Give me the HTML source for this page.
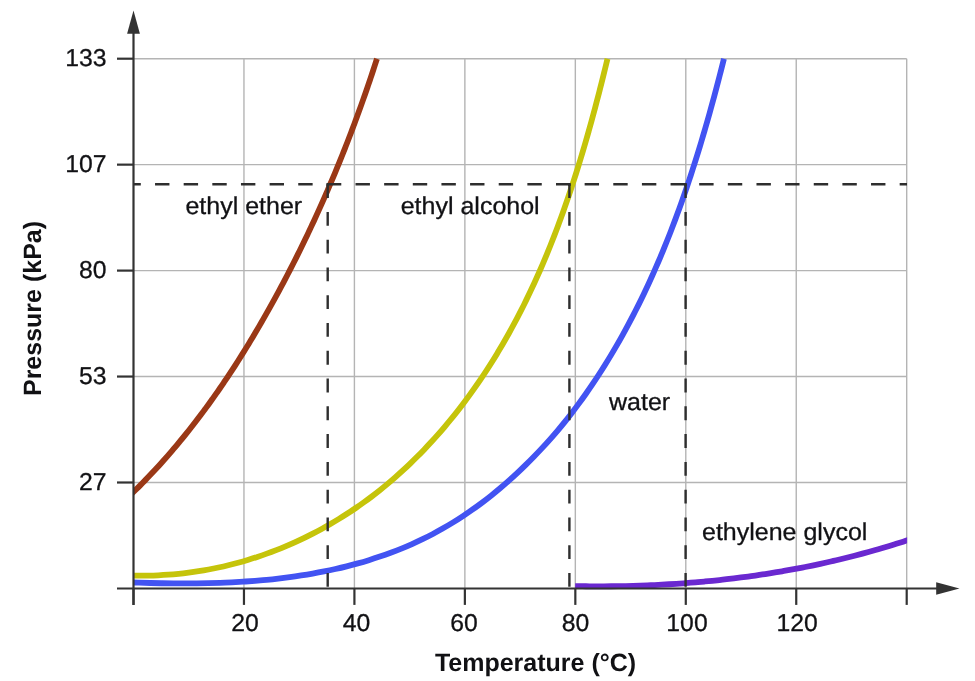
<!DOCTYPE html>
<html lang="en">
<head>
<meta charset="utf-8">
<title>Vapor pressure versus temperature</title>
<style>
html,body{margin:0;padding:0;background:#fff;}
body{width:975px;height:681px;overflow:hidden;}
svg{display:block;}
text{font-family:"Liberation Sans",sans-serif;font-size:25px;fill:#111114;stroke:#111114;stroke-width:0.3px;stroke-linejoin:round;text-rendering:geometricPrecision;}
.b{font-weight:bold;stroke-width:0;}
.grid line{stroke:#b4b4b4;stroke-width:1.4;}
.ax line{stroke:#333;stroke-width:2.2;}
.cv path{fill:none;stroke-width:5.8;}
.ds path{fill:none;stroke:#2e2e2e;stroke-width:2.4;}
</style>
</head>
<body>
<svg width="975" height="681" viewBox="0 0 975 681">
<rect width="975" height="681" fill="#ffffff"/>
<g>
<g class="grid"><line x1="243.96" y1="58.70" x2="243.96" y2="588.50"/><line x1="354.41" y1="58.70" x2="354.41" y2="588.50"/><line x1="464.87" y1="58.70" x2="464.87" y2="588.50"/><line x1="575.33" y1="58.70" x2="575.33" y2="588.50"/><line x1="685.79" y1="58.70" x2="685.79" y2="588.50"/><line x1="796.24" y1="58.70" x2="796.24" y2="588.50"/><line x1="906.70" y1="58.70" x2="906.70" y2="588.50"/><line x1="133.50" y1="58.70" x2="906.70" y2="58.70"/><line x1="133.50" y1="164.65" x2="906.70" y2="164.65"/><line x1="133.50" y1="270.60" x2="906.70" y2="270.60"/><line x1="133.50" y1="376.55" x2="906.70" y2="376.55"/><line x1="133.50" y1="482.50" x2="906.70" y2="482.50"/></g>
<defs><clipPath id="plot"><rect x="133.5" y="54.7" width="773.80" height="536.80"/></clipPath><clipPath id="pp"><rect x="575.03" y="500" width="332.27" height="100"/></clipPath></defs>
<g class="cv" clip-path="url(#plot)">
<path d="M126.47 498.77 C127.27 498.01 129.68 495.72 131.27 494.19 C132.86 492.65 134.44 491.11 136.01 489.55 C137.58 488.00 139.14 486.44 140.69 484.87 C142.24 483.30 143.79 481.72 145.32 480.14 C146.86 478.56 148.38 476.96 149.90 475.36 C151.41 473.76 152.92 472.16 154.42 470.54 C155.92 468.93 157.41 467.31 158.89 465.68 C160.37 464.05 161.85 462.41 163.31 460.77 C164.77 459.13 166.23 457.48 167.68 455.82 C169.12 454.16 170.56 452.50 171.99 450.83 C173.42 449.16 174.85 447.48 176.26 445.80 C177.68 444.11 179.08 442.42 180.48 440.72 C181.88 439.03 183.27 437.32 184.65 435.61 C186.03 433.90 187.40 432.19 188.77 430.46 C190.14 428.74 191.49 427.01 192.85 425.28 C194.20 423.54 195.54 421.80 196.87 420.05 C198.21 418.31 199.54 416.56 200.86 414.80 C202.18 413.04 203.49 411.28 204.79 409.51 C206.10 407.74 207.40 405.96 208.69 404.18 C209.98 402.40 211.26 400.61 212.54 398.82 C213.81 397.03 215.08 395.24 216.35 393.43 C217.61 391.63 218.86 389.83 220.11 388.01 C221.36 386.20 222.60 384.39 223.84 382.56 C225.07 380.74 226.30 378.92 227.52 377.09 C228.74 375.26 229.95 373.42 231.16 371.58 C232.37 369.74 233.57 367.89 234.76 366.05 C235.96 364.20 237.15 362.34 238.33 360.49 C239.51 358.63 240.69 356.77 241.86 354.90 C243.03 353.03 244.19 351.16 245.35 349.29 C246.50 347.42 247.65 345.54 248.80 343.66 C249.94 341.77 251.08 339.89 252.22 338.00 C253.35 336.11 254.48 334.22 255.60 332.32 C256.72 330.43 257.84 328.53 258.95 326.62 C260.06 324.72 261.16 322.81 262.26 320.90 C263.36 318.99 264.45 317.08 265.54 315.17 C266.63 313.25 267.71 311.33 268.79 309.41 C269.87 307.49 270.94 305.56 272.00 303.64 C273.07 301.71 274.13 299.78 275.19 297.85 C276.25 295.91 277.30 293.98 278.34 292.04 C279.39 290.10 280.43 288.16 281.47 286.22 C282.50 284.27 283.53 282.33 284.56 280.38 C285.58 278.43 286.60 276.48 287.62 274.52 C288.64 272.57 289.65 270.61 290.65 268.65 C291.66 266.69 292.66 264.73 293.65 262.77 C294.65 260.80 295.64 258.84 296.62 256.87 C297.60 254.90 298.58 252.92 299.56 250.95 C300.53 248.98 301.50 247.00 302.47 245.02 C303.43 243.04 304.39 241.06 305.35 239.08 C306.30 237.09 307.25 235.11 308.19 233.12 C309.14 231.13 310.08 229.14 311.01 227.14 C311.95 225.15 312.88 223.16 313.80 221.16 C314.72 219.16 315.64 217.16 316.56 215.16 C317.47 213.16 318.38 211.15 319.29 209.15 C320.19 207.14 321.09 205.13 321.99 203.12 C322.88 201.11 323.77 199.10 324.65 197.08 C325.54 195.07 326.42 193.05 327.29 191.03 C328.17 189.01 329.04 186.99 329.90 184.97 C330.77 182.94 331.63 180.92 332.49 178.89 C333.34 176.86 334.19 174.83 335.04 172.80 C335.88 170.77 336.72 168.74 337.56 166.70 C338.40 164.67 339.23 162.63 340.05 160.59 C340.88 158.55 341.70 156.51 342.52 154.47 C343.34 152.43 344.15 150.38 344.96 148.34 C345.76 146.29 346.57 144.24 347.36 142.19 C348.16 140.14 348.95 138.09 349.74 136.04 C350.53 133.98 351.31 131.93 352.09 129.87 C352.87 127.81 353.65 125.76 354.42 123.70 C355.18 121.64 355.95 119.57 356.71 117.51 C357.47 115.45 358.22 113.38 358.97 111.32 C359.73 109.25 360.47 107.18 361.21 105.11 C361.95 103.04 362.69 100.97 363.42 98.90 C364.15 96.83 364.88 94.75 365.60 92.68 C366.33 90.60 367.04 88.53 367.76 86.45 C368.47 84.37 369.18 82.29 369.88 80.21 C370.59 78.13 371.29 76.04 371.98 73.96 C372.68 71.88 373.37 69.79 374.05 67.70 C374.74 65.62 375.61 62.93 376.10 61.44 C376.58 59.95 376.82 59.20 376.96 58.75" stroke="#9a3816"/>
<path d="M117.29 574.75 C119.00 574.85 124.14 575.20 127.56 575.34 C130.98 575.49 134.40 575.58 137.81 575.63 C141.22 575.67 144.63 575.67 148.04 575.61 C151.44 575.56 154.84 575.46 158.23 575.30 C161.62 575.15 165.01 574.95 168.39 574.70 C171.77 574.46 175.14 574.16 178.51 573.82 C181.87 573.48 185.23 573.08 188.57 572.65 C191.92 572.21 195.26 571.73 198.59 571.20 C201.92 570.67 205.24 570.10 208.55 569.48 C211.86 568.86 215.16 568.20 218.44 567.49 C221.73 566.78 225.01 566.03 228.27 565.23 C231.54 564.43 234.79 563.59 238.03 562.71 C241.26 561.83 244.49 560.90 247.70 559.93 C250.91 558.97 254.11 557.95 257.29 556.90 C260.48 555.85 263.64 554.76 266.80 553.62 C269.95 552.49 273.08 551.31 276.20 550.10 C279.32 548.88 282.43 547.62 285.51 546.33 C288.60 545.03 291.66 543.70 294.71 542.33 C297.76 540.95 300.80 539.54 303.81 538.09 C306.82 536.64 309.81 535.15 312.78 533.62 C315.76 532.10 318.71 530.53 321.64 528.93 C324.57 527.34 327.48 525.70 330.37 524.02 C333.26 522.35 336.13 520.64 338.97 518.90 C341.82 517.15 344.64 515.37 347.44 513.56 C350.23 511.75 353.01 509.90 355.76 508.01 C358.51 506.13 361.23 504.21 363.93 502.26 C366.63 500.31 369.31 498.33 371.96 496.32 C374.61 494.30 377.24 492.25 379.85 490.18 C382.45 488.10 385.03 485.99 387.58 483.85 C390.14 481.71 392.67 479.54 395.18 477.35 C397.68 475.15 400.17 472.92 402.62 470.67 C405.08 468.41 407.52 466.13 409.93 463.82 C412.34 461.51 414.72 459.17 417.08 456.81 C419.45 454.45 421.78 452.06 424.10 449.65 C426.41 447.23 428.70 444.79 430.97 442.33 C433.23 439.87 435.47 437.38 437.69 434.87 C439.91 432.36 442.10 429.83 444.27 427.27 C446.44 424.72 448.59 422.14 450.71 419.54 C452.83 416.95 454.93 414.33 457.01 411.69 C459.08 409.05 461.13 406.39 463.16 403.71 C465.18 401.03 467.19 398.33 469.16 395.62 C471.14 392.90 473.10 390.17 475.03 387.42 C476.96 384.66 478.87 381.90 480.75 379.11 C482.64 376.33 484.50 373.53 486.33 370.71 C488.17 367.90 489.98 365.06 491.77 362.22 C493.56 359.38 495.33 356.52 497.07 353.64 C498.81 350.77 500.53 347.89 502.23 344.99 C503.92 342.09 505.59 339.18 507.24 336.26 C508.89 333.34 510.52 330.40 512.12 327.46 C513.72 324.51 515.30 321.55 516.86 318.59 C518.42 315.62 519.96 312.64 521.48 309.65 C523.00 306.66 524.49 303.66 525.97 300.65 C527.44 297.64 528.89 294.62 530.33 291.59 C531.76 288.56 533.18 285.52 534.57 282.48 C535.97 279.43 537.34 276.37 538.70 273.31 C540.05 270.24 541.39 267.17 542.71 264.08 C544.03 261.00 545.33 257.91 546.61 254.81 C547.89 251.71 549.15 248.61 550.40 245.49 C551.65 242.38 552.88 239.26 554.09 236.13 C555.30 233.01 556.50 229.87 557.68 226.73 C558.86 223.59 560.02 220.44 561.17 217.29 C562.31 214.14 563.45 210.98 564.56 207.82 C565.68 204.65 566.78 201.48 567.87 198.31 C568.95 195.14 570.02 191.96 571.08 188.77 C572.14 185.59 573.18 182.40 574.21 179.21 C575.24 176.02 576.26 172.82 577.26 169.62 C578.27 166.43 579.26 163.22 580.24 160.02 C581.21 156.81 582.18 153.60 583.13 150.39 C584.09 147.18 585.03 143.97 585.96 140.75 C586.89 137.54 587.81 134.32 588.72 131.10 C589.62 127.88 590.52 124.66 591.41 121.43 C592.30 118.21 593.17 114.99 594.04 111.76 C594.91 108.54 595.76 105.31 596.61 102.09 C597.46 98.86 598.30 95.64 599.13 92.41 C599.96 89.19 600.78 85.96 601.59 82.74 C602.41 79.52 603.21 76.29 604.01 73.07 C604.81 69.85 605.80 65.79 606.38 63.41 C606.96 61.02 607.32 59.53 607.50 58.75" stroke="#c5c40a"/>
<path d="M116.26 581.82 C118.15 581.90 123.81 582.14 127.60 582.28 C131.39 582.43 135.20 582.56 139.01 582.69 C142.82 582.81 146.64 582.92 150.47 583.02 C154.30 583.11 158.14 583.20 161.98 583.26 C165.83 583.33 169.68 583.38 173.54 583.41 C177.40 583.45 181.26 583.46 185.13 583.46 C189.00 583.45 192.87 583.43 196.75 583.38 C200.63 583.33 204.51 583.27 208.39 583.17 C212.27 583.08 216.15 582.97 220.03 582.83 C223.92 582.68 227.80 582.52 231.69 582.32 C235.57 582.13 239.45 581.91 243.33 581.66 C247.21 581.41 251.09 581.13 254.96 580.82 C258.84 580.50 262.71 580.16 266.58 579.78 C270.44 579.41 274.30 579.00 278.16 578.55 C282.01 578.11 285.86 577.63 289.71 577.11 C293.55 576.60 297.38 576.04 301.21 575.45 C305.03 574.86 308.85 574.23 312.66 573.55 C316.46 572.88 320.26 572.17 324.05 571.41 C327.83 570.65 331.61 569.85 335.37 569.01 C339.13 568.17 342.88 567.28 346.61 566.34 C350.34 565.41 354.07 564.42 357.77 563.39 C361.48 562.36 365.17 561.28 368.84 560.15 C372.51 559.02 376.17 557.84 379.81 556.61 C383.44 555.38 387.07 554.09 390.67 552.75 C394.27 551.41 397.85 550.02 401.41 548.57 C404.97 547.12 408.51 545.61 412.03 544.05 C415.55 542.48 419.05 540.86 422.52 539.18 C425.99 537.50 429.44 535.75 432.87 533.95 C436.29 532.14 439.70 530.27 443.07 528.35 C446.44 526.42 449.79 524.43 453.11 522.39 C456.43 520.34 459.72 518.24 462.97 516.09 C466.23 513.94 469.46 511.74 472.65 509.49 C475.84 507.24 479.00 504.94 482.12 502.60 C485.24 500.25 488.33 497.87 491.37 495.44 C494.42 493.02 497.43 490.55 500.39 488.06 C503.36 485.56 506.28 483.02 509.16 480.45 C512.04 477.89 514.88 475.29 517.68 472.66 C520.48 470.03 523.24 467.37 525.97 464.67 C528.71 461.98 531.40 459.25 534.08 456.50 C536.75 453.74 539.40 450.95 542.02 448.13 C544.65 445.31 547.25 442.45 549.82 439.57 C552.38 436.68 554.92 433.76 557.43 430.81 C559.93 427.86 562.40 424.87 564.83 421.85 C567.26 418.83 569.65 415.78 572.01 412.70 C574.37 409.62 576.69 406.52 578.98 403.40 C581.27 400.28 583.53 397.13 585.76 393.97 C587.98 390.81 590.18 387.63 592.34 384.43 C594.51 381.23 596.64 378.01 598.75 374.77 C600.85 371.53 602.92 368.28 604.97 365.00 C607.01 361.73 609.03 358.44 611.01 355.13 C613.00 351.82 614.96 348.50 616.89 345.16 C618.82 341.82 620.72 338.46 622.59 335.09 C624.47 331.72 626.31 328.33 628.13 324.93 C629.95 321.52 631.75 318.11 633.51 314.67 C635.28 311.24 637.02 307.80 638.74 304.34 C640.46 300.88 642.15 297.41 643.81 293.92 C645.48 290.44 647.12 286.94 648.74 283.43 C650.36 279.92 651.95 276.40 653.52 272.87 C655.09 269.33 656.64 265.79 658.16 262.23 C659.69 258.68 661.19 255.11 662.67 251.54 C664.15 247.96 665.61 244.38 667.05 240.78 C668.49 237.19 669.90 233.58 671.30 229.97 C672.70 226.36 674.07 222.74 675.43 219.11 C676.78 215.48 678.12 211.84 679.44 208.20 C680.75 204.55 682.05 200.90 683.33 197.24 C684.61 193.59 685.87 189.92 687.11 186.25 C688.36 182.58 689.58 178.91 690.79 175.23 C692.00 171.55 693.19 167.86 694.37 164.17 C695.54 160.48 696.70 156.78 697.84 153.09 C698.99 149.39 700.12 145.69 701.23 141.98 C702.34 138.28 703.44 134.57 704.52 130.86 C705.61 127.15 706.68 123.43 707.73 119.72 C708.79 116.01 709.83 112.29 710.86 108.57 C711.89 104.86 712.90 101.14 713.91 97.42 C714.91 93.70 715.90 89.98 716.89 86.26 C717.87 82.55 718.84 78.83 719.79 75.11 C720.75 71.40 721.95 66.69 722.64 63.97 C723.33 61.24 723.72 59.62 723.94 58.75" stroke="#4253f2"/>
<path d="M575.12 586.10 C576.32 586.12 579.93 586.19 582.33 586.22 C584.74 586.25 587.14 586.28 589.55 586.30 C591.96 586.31 594.36 586.33 596.77 586.33 C599.18 586.33 601.58 586.33 603.99 586.32 C606.40 586.31 608.81 586.29 611.21 586.27 C613.62 586.24 616.03 586.21 618.44 586.17 C620.85 586.13 623.25 586.09 625.66 586.03 C628.07 585.98 630.48 585.92 632.89 585.85 C635.30 585.78 637.71 585.71 640.11 585.62 C642.52 585.54 644.93 585.45 647.34 585.35 C649.75 585.25 652.15 585.14 654.56 585.03 C656.97 584.91 659.38 584.79 661.78 584.66 C664.19 584.53 666.60 584.40 669.00 584.25 C671.41 584.10 673.82 583.95 676.22 583.79 C678.63 583.63 681.03 583.46 683.44 583.28 C685.84 583.11 688.24 582.92 690.65 582.73 C693.05 582.54 695.45 582.33 697.85 582.13 C700.26 581.92 702.66 581.70 705.06 581.47 C707.46 581.25 709.86 581.01 712.26 580.77 C714.65 580.53 717.05 580.28 719.45 580.02 C721.85 579.76 724.24 579.50 726.64 579.22 C729.03 578.95 731.42 578.66 733.82 578.37 C736.21 578.08 738.60 577.78 740.99 577.47 C743.38 577.16 745.77 576.84 748.16 576.51 C750.55 576.19 752.93 575.85 755.32 575.51 C757.70 575.17 760.09 574.81 762.47 574.45 C764.85 574.09 767.24 573.72 769.61 573.34 C771.99 572.96 774.37 572.57 776.75 572.18 C779.13 571.78 781.50 571.38 783.87 570.96 C786.25 570.55 788.62 570.12 790.99 569.69 C793.36 569.26 795.73 568.82 798.10 568.36 C800.46 567.91 802.83 567.45 805.19 566.98 C807.55 566.51 809.91 566.04 812.27 565.55 C814.63 565.06 816.99 564.56 819.35 564.06 C821.70 563.55 824.05 563.03 826.40 562.51 C828.76 561.98 831.10 561.45 833.45 560.91 C835.80 560.36 838.14 559.81 840.49 559.24 C842.83 558.68 845.17 558.11 847.51 557.53 C849.84 556.94 852.18 556.35 854.51 555.75 C856.85 555.15 859.18 554.54 861.50 553.91 C863.83 553.29 866.16 552.66 868.48 552.02 C870.81 551.38 873.13 550.73 875.44 550.07 C877.76 549.41 880.08 548.74 882.39 548.05 C884.70 547.37 887.01 546.68 889.32 545.98 C891.63 545.28 893.93 544.57 896.23 543.85 C898.53 543.13 900.83 542.40 903.13 541.65 C905.42 540.91 908.86 539.77 910.01 539.40" stroke="#6a28d0" clip-path="url(#pp)"/>
</g>
<g class="ds">
<path d="M133.5 184.3 H907" stroke-dasharray="14.4 14.24" stroke-dashoffset="7.1"/>
<path d="M327.7 184.1 V588.3" stroke-dasharray="13.85 13.93"/>
<path d="M569.4 184.1 V588.3" stroke-dasharray="13.85 13.93"/>
<path d="M685.6 184.1 V588.3" stroke-dasharray="13.85 13.93"/>
<path d="M327.7 183.1 V186 M569.4 183.1 V186 M685.6 183.1 V186"/>
</g>
<g class="ax">
<line x1="133.5" y1="32" x2="133.5" y2="604.9"/>
<line x1="117" y1="588.5" x2="938" y2="588.5"/>
<line x1="133.50" y1="588.50" x2="133.50" y2="604.90"/><line x1="243.96" y1="588.50" x2="243.96" y2="604.90"/><line x1="354.41" y1="588.50" x2="354.41" y2="604.90"/><line x1="464.87" y1="588.50" x2="464.87" y2="604.90"/><line x1="575.33" y1="588.50" x2="575.33" y2="604.90"/><line x1="685.79" y1="588.50" x2="685.79" y2="604.90"/><line x1="796.24" y1="588.50" x2="796.24" y2="604.90"/><line x1="906.70" y1="588.50" x2="906.70" y2="604.90"/><line x1="117.00" y1="58.70" x2="133.50" y2="58.70"/><line x1="117.00" y1="164.65" x2="133.50" y2="164.65"/><line x1="117.00" y1="270.60" x2="133.50" y2="270.60"/><line x1="117.00" y1="376.55" x2="133.50" y2="376.55"/><line x1="117.00" y1="482.50" x2="133.50" y2="482.50"/>
</g>
<polygon points="133.5,10.5 127.1,33.8 139.9,33.8" fill="#333"/>
<polygon points="959.5,588.5 936.2,582.3 936.2,594.7" fill="#333"/>
<g><text transform="translate(245.0 631) scale(0.99 0.975)" text-anchor="middle">20</text><text transform="translate(356.5 631) scale(0.99 0.975)" text-anchor="middle">40</text><text transform="translate(464.0 631) scale(0.99 0.975)" text-anchor="middle">60</text><text transform="translate(575.6 631) scale(0.99 0.975)" text-anchor="middle">80</text><text transform="translate(687.0 631) scale(0.99 0.975)" text-anchor="middle">100</text><text transform="translate(797.1 631) scale(0.99 0.975)" text-anchor="middle">120</text></g>
<g><text transform="translate(106.6 66) scale(0.99 0.975)" text-anchor="end">133</text><text transform="translate(106.6 172) scale(0.99 0.975)" text-anchor="end">107</text><text transform="translate(106.6 278) scale(0.99 0.975)" text-anchor="end">80</text><text transform="translate(106.6 384) scale(0.99 0.975)" text-anchor="end">53</text><text transform="translate(106.6 490) scale(0.99 0.975)" text-anchor="end">27</text></g>
<text transform="translate(185.4 214) scale(1 0.975)">ethyl ether</text>
<text transform="translate(400.7 214) scale(1 0.975)">ethyl alcohol</text>
<text transform="translate(609 410) scale(1 0.975)">water</text>
<text transform="translate(702 540) scale(1 0.975)">ethylene glycol</text>
<text class="b" transform="translate(535.5 671) scale(1 1.0)" text-anchor="middle">Temperature (°C)</text>
<text class="b" transform="translate(40.6 308.5) rotate(-90) scale(1 1.0)" text-anchor="middle">Pressure (kPa)</text>
</g>
</svg>
</body>
</html>
